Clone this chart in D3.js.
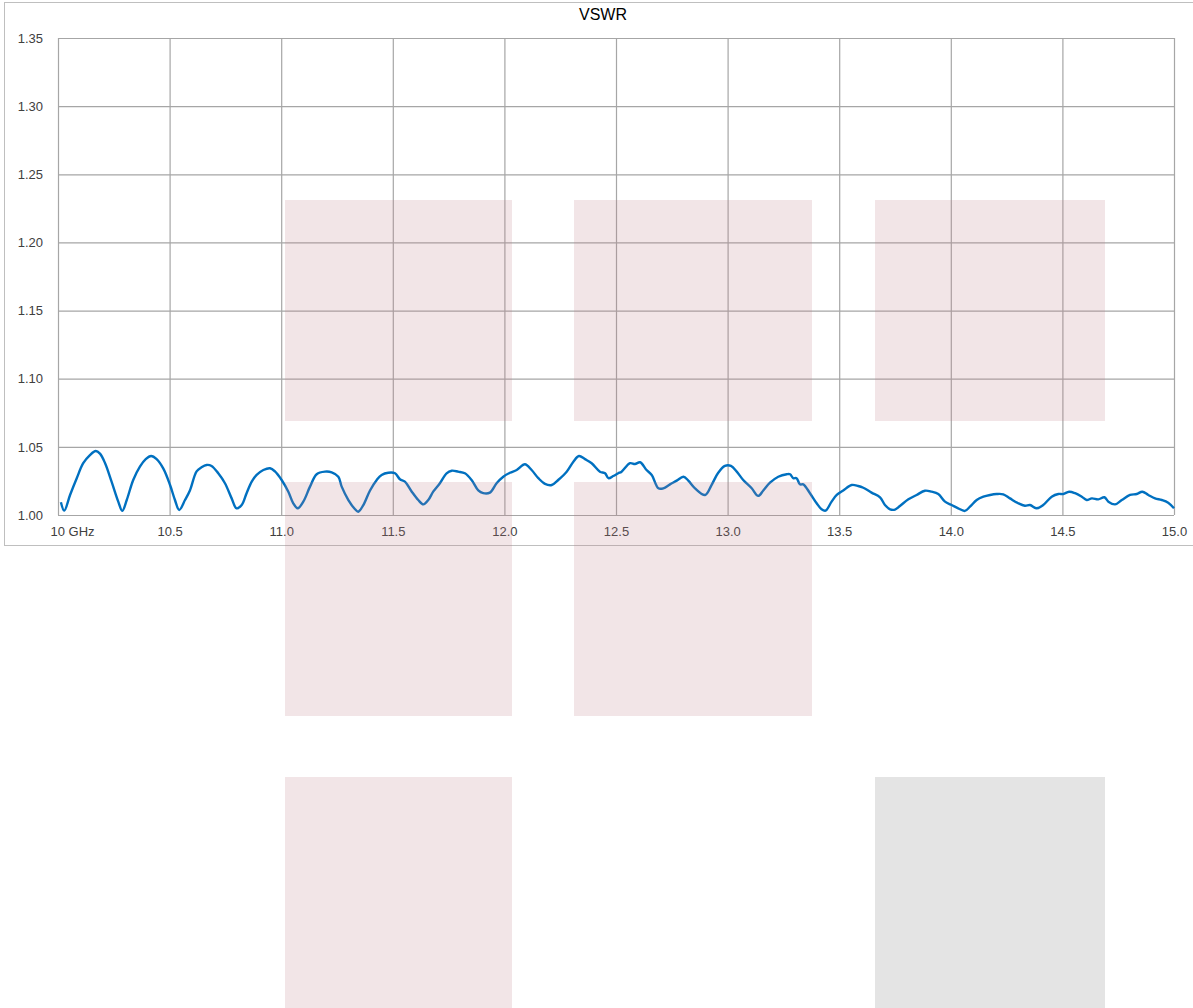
<!DOCTYPE html>
<html>
<head>
<meta charset="utf-8">
<script src="https://cdn.jsdelivr.net/npm/d3@7"></script>
<style>
  body { margin: 0; background: #fff; }
  svg { display: block; }
  .tick text { font-family: "Liberation Sans", Arial, sans-serif; font-size: 13px; fill: #404040; }
</style>
</head>
<body>
<div id="chart"></div>
<script>
const freq = [
  10.013, 10.028, 10.054, 10.084, 10.113, 10.143, 10.169, 10.188, 10.211, 10.240,
  10.270, 10.288, 10.308, 10.337, 10.367, 10.393, 10.417, 10.442, 10.472, 10.502,
  10.524, 10.543, 10.569, 10.591, 10.621, 10.643, 10.666, 10.688, 10.718, 10.748,
  10.778, 10.800, 10.823, 10.845, 10.868, 10.890, 10.920, 10.950, 10.972, 11.002,
  11.032, 11.054, 11.074, 11.099, 11.129, 11.159, 11.196, 11.226, 11.256, 11.271,
  11.301, 11.331, 11.345, 11.368, 11.398, 11.428, 11.450, 11.480, 11.510, 11.532,
  11.554, 11.585, 11.614, 11.637, 11.659, 11.681, 11.711, 11.741, 11.764, 11.793,
  11.823, 11.853, 11.883, 11.905, 11.935, 11.965, 11.995, 12.025, 12.055, 12.092,
  12.122, 12.152, 12.182, 12.212, 12.241, 12.279, 12.309, 12.334, 12.361, 12.391,
  12.428, 12.451, 12.466, 12.488, 12.510, 12.525, 12.563, 12.585, 12.608, 12.637,
  12.660, 12.690, 12.712, 12.742, 12.772, 12.802, 12.824, 12.854, 12.899, 12.928,
  12.958, 12.988, 13.015, 13.041, 13.070, 13.108, 13.137, 13.160, 13.190, 13.227,
  13.265, 13.280, 13.294, 13.309, 13.324, 13.339, 13.369, 13.399, 13.421, 13.439,
  13.466, 13.489, 13.518, 13.556, 13.585, 13.608, 13.645, 13.683, 13.705, 13.728,
  13.750, 13.772, 13.810, 13.847, 13.884, 13.914, 13.944, 13.974, 14.004, 14.033,
  14.063, 14.086, 14.116, 14.146, 14.176, 14.205, 14.235, 14.265, 14.302, 14.332,
  14.355, 14.385, 14.414, 14.452, 14.482, 14.504, 14.530, 14.557, 14.587, 14.609,
  14.632, 14.661, 14.688, 14.706, 14.736, 14.766, 14.803, 14.833, 14.858, 14.885,
  14.915, 14.945, 14.974, 15.000
];
const vswr = [
  1.0093, 1.0032, 1.0147, 1.0270, 1.0380, 1.0440, 1.0470, 1.0450, 1.0380, 1.0245,
  1.0098, 1.0030, 1.0110, 1.0257, 1.0355, 1.0410, 1.0433, 1.0410, 1.0340, 1.0220,
  1.0110, 1.0037, 1.0110, 1.0180, 1.0320, 1.0350, 1.0367, 1.0360, 1.0306, 1.0233,
  1.0122, 1.0049, 1.0073, 1.0160, 1.0245, 1.0294, 1.0330, 1.0343, 1.0320, 1.0257,
  1.0171, 1.0086, 1.0049, 1.0098, 1.0208, 1.0299, 1.0318, 1.0313, 1.0281, 1.0208,
  1.0110, 1.0042, 1.0024, 1.0073, 1.0180, 1.0257, 1.0294, 1.0310, 1.0306, 1.0262,
  1.0245, 1.0171, 1.0110, 1.0078, 1.0110, 1.0171, 1.0233, 1.0306, 1.0325, 1.0318,
  1.0306, 1.0257, 1.0180, 1.0160, 1.0164, 1.0233, 1.0281, 1.0310, 1.0330, 1.0372,
  1.0330, 1.0270, 1.0228, 1.0220, 1.0257, 1.0318, 1.0391, 1.0433, 1.0410, 1.0380,
  1.0318, 1.0306, 1.0270, 1.0286, 1.0306, 1.0318, 1.0380, 1.0374, 1.0387, 1.0330,
  1.0294, 1.0196, 1.0196, 1.0225, 1.0252, 1.0281, 1.0252, 1.0196, 1.0147, 1.0220,
  1.0310, 1.0360, 1.0360, 1.0318, 1.0257, 1.0196, 1.0140, 1.0180, 1.0237, 1.0281,
  1.0299, 1.0299, 1.0270, 1.0270, 1.0225, 1.0225, 1.0160, 1.0086, 1.0042, 1.0032,
  1.0098, 1.0147, 1.0180, 1.0220, 1.0213, 1.0200, 1.0164, 1.0130, 1.0073, 1.0042,
  1.0040, 1.0066, 1.0115, 1.0147, 1.0178, 1.0171, 1.0154, 1.0098, 1.0073, 1.0049,
  1.0030, 1.0061, 1.0110, 1.0134, 1.0147, 1.0154, 1.0152, 1.0122, 1.0086, 1.0068,
  1.0073, 1.0049, 1.0073, 1.0134, 1.0154, 1.0154, 1.0171, 1.0160, 1.0134, 1.0110,
  1.0122, 1.0115, 1.0130, 1.0098, 1.0078, 1.0110, 1.0147, 1.0154, 1.0171, 1.0147,
  1.0122, 1.0110, 1.0090, 1.0049
];
const xTicks = [10, 10.5, 11, 11.5, 12, 12.5, 13, 13.5, 14, 14.5, 15];
const yTicks = [1.00, 1.05, 1.10, 1.15, 1.20, 1.25, 1.30, 1.35];

const W = 1193, H = 1008;
const m = { top: 38, right: 19, bottom: 493, left: 58 };
const iw = W - m.left - m.right;
const ih = H - m.top - m.bottom;

const svg = d3.select("#chart").append("svg").attr("width", W).attr("height", H);

// chart frame
svg.append("rect").attr("x", 4.5).attr("y", 2.5).attr("width", W - 4).attr("height", 543)
  .attr("fill", "#fff").attr("stroke", "#bfbfbf").attr("stroke-width", 1);

svg.append("text").attr("x", 603).attr("y", 20)
  .attr("text-anchor", "middle")
  .attr("font-family", "Liberation Sans, Arial, sans-serif").attr("font-size", 16)
  .attr("fill", "#000").text("VSWR");

const g = svg.append("g").attr("transform", `translate(${m.left},${m.top})`);

const x = d3.scaleLinear().domain([10, 15]).range([0, iw]);
const y = d3.scaleLinear().domain([1.0, 1.35]).range([ih, 0]);

// horizontal grid + y labels
const gy = g.append("g").call(d3.axisLeft(y).tickValues(yTicks).tickSize(-iw).tickPadding(15).tickFormat(d3.format(".2f")));
gy.select(".domain").remove();
gy.selectAll("line").attr("stroke", "#a6a6a6").attr("stroke-width", 1.2);

// vertical grid + x labels
const gx = g.append("g").attr("transform", `translate(0,${ih})`)
  .call(d3.axisBottom(x).tickValues(xTicks).tickSize(-ih).tickPadding(10)
    .tickFormat(d => d === 10 ? "10 GHz" : d3.format(".1f")(d)));
gx.select(".domain").remove();
gx.selectAll("line").attr("stroke", "#a6a6a6").attr("stroke-width", 1.2);
gx.selectAll("text").attr("dy", "0.85em");
gx.selectAll(".tick").filter(d => d === 10).select("text").attr("text-anchor", "start").attr("x", -8);

// shaded panels laid over the page
const panels = [
  [285, 200, 227, 221, "p"], [574, 200, 238, 221, "p"], [875, 200, 230, 221, "p"],
  [285, 482, 227, 234, "p"], [574, 482, 238, 234, "p"],
  [285, 777, 227, 231, "p"], [875, 777, 230, 231, "g"]
];
svg.selectAll(".panel").data(panels).enter().append("rect")
  .attr("class", "panel")
  .attr("x", d => d[0]).attr("y", d => d[1]).attr("width", d => d[2]).attr("height", d => d[3])
  .attr("fill", d => d[4] === "p" ? "#bd7f85" : "#e4e4e4")
  .attr("fill-opacity", d => d[4] === "p" ? 0.2 : 1);

// trace on top
const line = d3.line().x((d, i) => x(freq[i])).y(d => y(d)).curve(d3.curveCatmullRom.alpha(0.5));
g.append("path").datum(vswr)
  .attr("fill", "none").attr("stroke", "#0070c0").attr("stroke-width", 2.4)
  .attr("stroke-linejoin", "round").attr("d", line);
</script>
</body>
</html>
